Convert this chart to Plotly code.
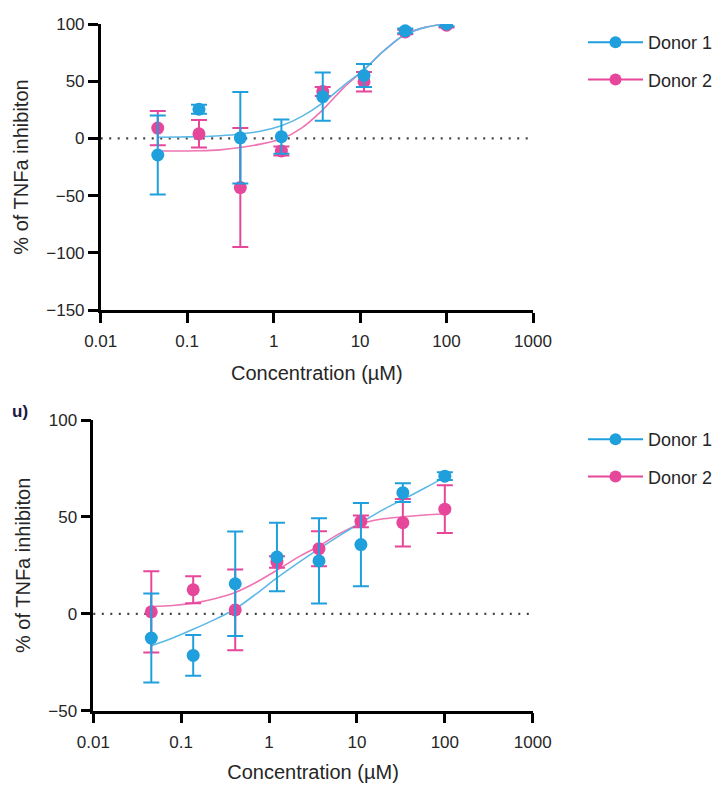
import plotly.graph_objects as go

# ---------------- data ----------------
conc = [0.0457, 0.137, 0.412, 1.23, 3.70, 11.1, 33.3, 100]

# Top panel (mean, SD)
top_d1 = [-14.5, 25.5, 0.5, 1.5, 36.5, 55.0, 94.0, 100.0]
top_d1_err = [34.5, 4.0, 40.0, 15.0, 21.0, 10.0, 2.0, 2.0]
top_d2 = [9.0, 4.0, -43.0, -11.0, 41.0, 49.5, 93.0, 99.0]
top_d2_err = [15.0, 12.0, 52.0, 4.0, 4.0, 8.5, 2.0, 2.0]

# Fitted curves
curve_x = [0.0457, 0.08, 0.137, 0.24, 0.412, 0.7, 1.23, 2.1, 3.7, 6.4, 11.1, 18.5, 33.3, 60, 100]
top_curve_d1 = [1.0, 1.2, 1.5, 2.3, 3.8, 6.3, 11.0, 19.0, 31.0, 46.0, 60.0, 76.0, 91.0, 97.5, 100.0]
top_curve_d2 = [-11.0, -11.0, -10.8, -10.0, -8.0, -5.0, -0.5, 9.0, 25.0, 44.0, 60.0, 76.0, 91.0, 97.5, 100.0]

# Bottom panel (mean, SD)
bot_d1 = [-12.5, -21.5, 15.5, 29.3, 27.3, 35.7, 62.5, 71.0]
bot_d1_err = [23.0, 10.5, 27.0, 17.7, 22.0, 21.5, 4.8, 2.0]
bot_d2 = [1.0, 12.4, 2.0, 26.7, 33.6, 47.7, 47.0, 54.0]
bot_d2_err = [21.0, 7.0, 20.8, 3.0, 9.0, 3.0, 12.3, 12.3]

bot_curve_d1 = [-16.5, -12.5, -8.0, -3.0, 2.5, 10.0, 18.5, 26.0, 33.5, 40.5, 47.0, 53.0, 59.0, 65.0, 70.5]
bot_curve_d2 = [3.8, 4.3, 5.5, 7.8, 11.0, 16.0, 22.5, 29.0, 35.0, 41.5, 46.5, 48.8, 50.0, 51.0, 51.5]

x_tickvals = [0.01, 0.1, 1, 10, 100, 1000]
x_ticktext = ["0.01", "0.1", "1", "10", "100", "1000"]
series_names = ["Donor 1", "Donor 2"]

# ---------------- style ----------------
BLUE = "#1f9fdc"
PINK = "#e6479b"
BLUE_L = "#5cb8e6"
PINK_L = "#ee74b2"
FONT = "Liberation Sans, Arial, sans-serif"
TXT = "#262626"
OFF = 8  # page body margin
W, H = 716, 775


def fx(p):
    return (p - OFF) / W


def fy(p):
    return (H - (p - OFF)) / H


fig = go.Figure()


def add_panel(xa, ya, c1, c2, d1, e1, d2, e2, legend):
    fig.add_trace(go.Scatter(x=curve_x, y=c2, mode="lines",
                             line=dict(color=PINK_L, width=1.6, shape="spline", smoothing=0.7),
                             xaxis=xa, yaxis=ya, showlegend=False, hoverinfo="skip"))
    fig.add_trace(go.Scatter(x=curve_x, y=c1, mode="lines",
                             line=dict(color=BLUE_L, width=1.6, shape="spline", smoothing=0.7),
                             xaxis=xa, yaxis=ya, showlegend=False, hoverinfo="skip"))
    fig.add_trace(go.Scatter(x=conc, y=d2, mode="markers",
                             marker=dict(color=PINK, size=13),
                             error_y=dict(type="data", array=e2, color=PINK, thickness=2, width=8),
                             xaxis=xa, yaxis=ya, showlegend=False))
    fig.add_trace(go.Scatter(x=conc, y=d1, mode="markers",
                             marker=dict(color=BLUE, size=13),
                             error_y=dict(type="data", array=e1, color=BLUE, thickness=2, width=8),
                             xaxis=xa, yaxis=ya, showlegend=False))
    for name, col in zip(series_names, [BLUE, PINK]):
        fig.add_trace(go.Scatter(x=[None], y=[None], mode="lines+markers", name=name,
                                 line=dict(color=col, width=2), marker=dict(color=col, size=12),
                                 xaxis=xa, yaxis=ya, legend=legend, legendgroup=legend + name))


add_panel("x", "y", top_curve_d1, top_curve_d2, top_d1, top_d1_err, top_d2, top_d2_err, "legend")
add_panel("x2", "y2", bot_curve_d1, bot_curve_d2, bot_d1, bot_d1_err, bot_d2, bot_d2_err, "legend2")

axis_common = dict(showline=True, linecolor="black", linewidth=2.5, ticks="outside", ticklen=10,
                   tickwidth=2.5, tickcolor="black", showgrid=False, zeroline=False, automargin=False,
                   tickfont=dict(family=FONT, size=17, color=TXT))

xtitle_font = dict(family=FONT, size=20, color=TXT)
xcommon = dict(axis_common, type="log", range=[-2, 3], tickvals=x_tickvals, ticktext=x_ticktext,
               ticklabelstandoff=4)
ytitle = dict(text="% of TNFa inhibiton", font=dict(family=FONT, size=20, color=TXT), standoff=13)

leg_common = dict(xanchor="left", yanchor="top", tracegroupgap=11, itemwidth=55,
                  font=dict(family=FONT, size=18, color=TXT), bgcolor="rgba(0,0,0,0)")

fig.update_layout(
    width=W, height=H,
    margin=dict(l=0, r=0, t=0, b=0, autoexpand=False),
    paper_bgcolor="white", plot_bgcolor="white",
    xaxis=dict(xcommon, domain=[fx(100.7), fx(533)], anchor="y",
               title=dict(text="Concentration (µM)", font=xtitle_font, standoff=16)),
    yaxis=dict(axis_common, domain=[fy(310), fy(24)], range=[-150, 100], dtick=50,
               anchor="x", title=ytitle),
    xaxis2=dict(xcommon, domain=[fx(93.3), fx(532.7)], anchor="y2",
                title=dict(text="Concentration (µM)", font=xtitle_font, standoff=20)),
    yaxis2=dict(axis_common, domain=[fy(710.7), fy(420)], range=[-50, 100], dtick=50,
                anchor="x2", title=ytitle),
    legend=dict(leg_common, x=fx(583), y=fy(24)),
    legend2=dict(leg_common, x=fx(583), y=fy(421)),
    showlegend=True,
    shapes=[
        dict(type="line", xref="x domain", yref="y", x0=0, x1=1, y0=0, y1=0,
             line=dict(color="#444", width=2.2, dash="2px,6.5px"), layer="below"),
        dict(type="line", xref="x2 domain", yref="y2", x0=0, x1=1, y0=0, y1=0,
             line=dict(color="#444", width=2.2, dash="2px,6.5px"), layer="below"),
    ],
    annotations=[
        dict(text="<b>u)</b>", x=fx(10), y=fy(412), xref="paper", yref="paper",
             xanchor="left", yanchor="middle", showarrow=False,
             font=dict(family=FONT, size=17, color="#1a1a40")),
    ],
)

fig.write_html("out.html")
